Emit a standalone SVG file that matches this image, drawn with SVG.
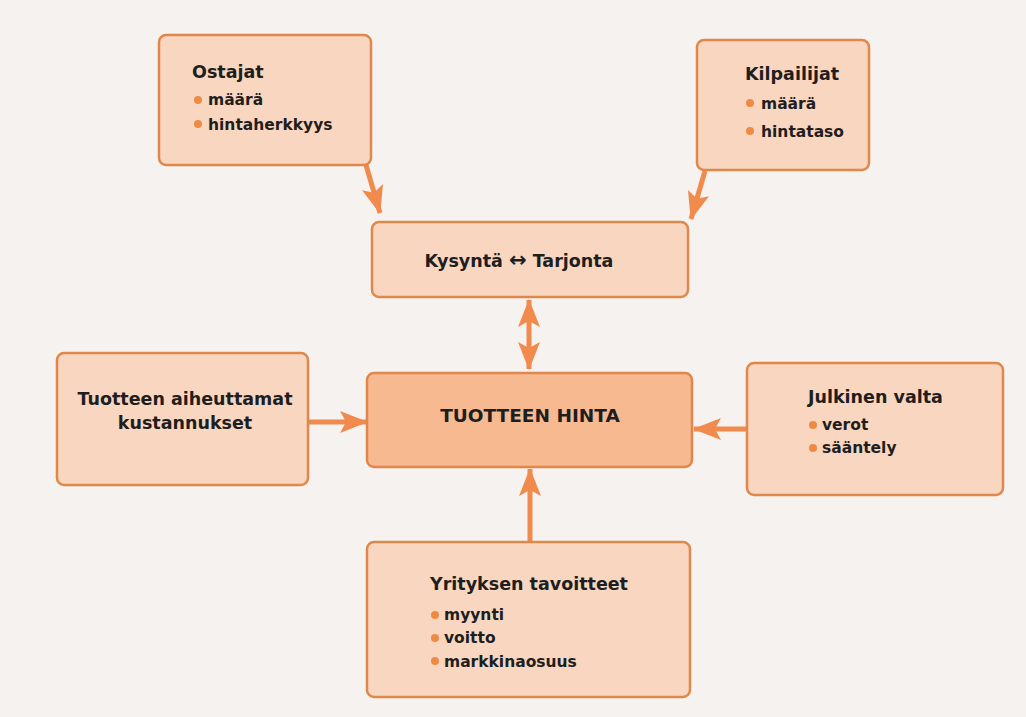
<svg xmlns="http://www.w3.org/2000/svg" width="1026" height="717" viewBox="0 0 1026 717">
<defs>
<style>
.box{fill:#f9d6bf;stroke:#e0874c;stroke-width:2.5}
.main{fill:#f6b990;stroke:#e0874c;stroke-width:2.5}
.t{font-family:"DejaVu Sans",sans-serif;font-weight:bold;font-size:17.5px;fill:#1e1e1e}
.b{font-family:"DejaVu Sans",sans-serif;font-weight:bold;font-size:15.5px;fill:#1e1e1e}
.dot{fill:#ef8a45}
.arr{stroke:#f08a4d;stroke-width:5;fill:none}
</style>
<marker id="ah" viewBox="0 0 28 22" refX="27" refY="11" markerWidth="28" markerHeight="22" markerUnits="userSpaceOnUse" orient="auto-start-reverse">
<path d="M0,0 L28,11 L0,22 L6,11 z" fill="#f08a4d"/>
</marker>
</defs>
<rect width="1026" height="717" fill="#f5f2ef"/>
<g id="connectors">
<line class="arr" x1="366" y1="165" x2="380" y2="213" marker-end="url(#ah)"/>
<line class="arr" x1="705" y1="171" x2="691" y2="219" marker-end="url(#ah)"/>
<line class="arr" x1="529" y1="300" x2="529" y2="369" marker-start="url(#ah)" marker-end="url(#ah)"/>
<line class="arr" x1="308" y1="422" x2="367" y2="422" marker-end="url(#ah)"/>
<line class="arr" x1="747" y1="429" x2="694" y2="429" marker-end="url(#ah)"/>
<line class="arr" x1="530" y1="542" x2="530" y2="469" marker-end="url(#ah)"/>
</g>
<g id="ostajat">
<rect class="box" x="159" y="35" width="212" height="130" rx="7"/>
<text class="t" x="192" y="78">Ostajat</text>
<circle class="dot" cx="198" cy="100" r="4"/>
<text class="b" x="208" y="105">määrä</text>
<circle class="dot" cx="198" cy="124" r="4"/>
<text class="b" x="208" y="130">hintaherkkyys</text>
</g>
<g id="kilpailijat">
<rect class="box" x="697" y="40" width="172" height="130" rx="7"/>
<text class="t" x="745" y="80">Kilpailijat</text>
<circle class="dot" cx="750" cy="103" r="4"/>
<text class="b" x="761" y="109">määrä</text>
<circle class="dot" cx="750" cy="131" r="4"/>
<text class="b" x="761" y="137">hintataso</text>
</g>
<g id="kysynta">
<rect class="box" x="372" y="222" width="316" height="75" rx="7"/>
<text class="t" x="519" y="267" text-anchor="middle">Kysyntä <tspan style="font-size:21px">↔</tspan> Tarjonta</text>
</g>
<g id="kustannukset">
<rect class="box" x="57" y="353" width="251" height="132" rx="7"/>
<text class="t" x="185" y="405" text-anchor="middle">Tuotteen aiheuttamat</text>
<text class="t" x="185" y="429" text-anchor="middle">kustannukset</text>
</g>
<g id="hinta">
<rect class="main" x="367" y="373" width="325" height="94" rx="7"/>
<text class="t" x="530" y="422" text-anchor="middle" style="font-size:18.5px">TUOTTEEN HINTA</text>
</g>
<g id="julkinen">
<rect class="box" x="747" y="363" width="256" height="132" rx="7"/>
<text class="t" x="808" y="403">Julkinen valta</text>
<circle class="dot" cx="813" cy="425" r="4"/>
<text class="b" x="822" y="430">verot</text>
<circle class="dot" cx="813" cy="448" r="4"/>
<text class="b" x="822" y="453">sääntely</text>
</g>
<g id="yritys">
<rect class="box" x="367" y="542" width="323" height="155" rx="7"/>
<text class="t" x="430" y="590">Yrityksen tavoitteet</text>
<circle class="dot" cx="435" cy="615" r="4"/>
<text class="b" x="444" y="620">myynti</text>
<circle class="dot" cx="435" cy="638" r="4"/>
<text class="b" x="444" y="643">voitto</text>
<circle class="dot" cx="435" cy="661" r="4"/>
<text class="b" x="444" y="667">markkinaosuus</text>
</g>
</svg>
